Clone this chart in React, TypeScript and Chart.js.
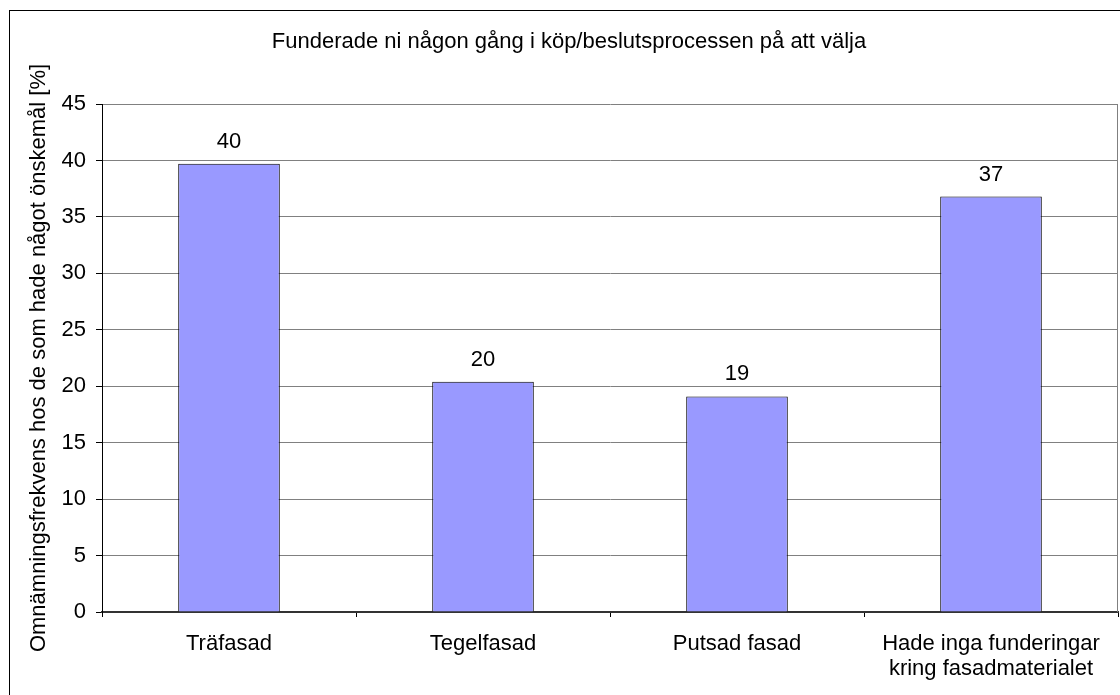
import React, { useEffect, useRef } from "react";
import { Chart, registerables } from "chart.js";

Chart.register(...registerables);

const categories: (string | string[])[] = [
  "Träfasad",
  "Tegelfasad",
  "Putsad fasad",
  ["Hade inga funderingar", "kring fasadmaterialet"],
];
const values: number[] = [39.7, 20.4, 19.1, 36.8];
const valueLabels: string[] = ["40", "20", "19", "37"];
const yMin = 0;
const yMax = 45;
const yStep = 5;
const chartTitle = "Funderade ni någon gång i köp/beslutsprocessen på att välja";
const yAxisTitle = "Omnämningsfrekvens hos de som hade något önskemål [%]";

const FONT = '"Liberation Sans", Arial, sans-serif';
const FSIZE = 22;

const decoPlugin = {
  id: "deco",
  beforeDraw(chart: any) {
    const ctx = chart.ctx;
    ctx.save();
    ctx.fillStyle = "#ffffff";
    ctx.fillRect(0, 0, chart.width, chart.height);
    ctx.strokeStyle = "#000000";
    ctx.lineWidth = 1;
    ctx.strokeRect(9.5, 10.5, 1300, 900);
    ctx.restore();
  },
  afterDraw(chart: any) {
    const { ctx, chartArea } = chart;
    ctx.save();
    ctx.strokeStyle = "#808080";
    ctx.lineWidth = 1;
    ctx.beginPath();
    ctx.moveTo(Math.round(chartArea.right) - 0.5, chartArea.top);
    ctx.lineTo(Math.round(chartArea.right) - 0.5, chartArea.bottom);
    ctx.stroke();

    ctx.fillStyle = "#000000";
    ctx.font = `${FSIZE}px ${FONT}`;
    ctx.textAlign = "center";
    ctx.textBaseline = "middle";
    ctx.fillText(chartTitle, 569, 41.5);

    ctx.save();
    ctx.translate(39, (chartArea.top + chartArea.bottom) / 2);
    ctx.rotate(-Math.PI / 2);
    ctx.fillText(yAxisTitle, 0, 0);
    ctx.restore();

    const meta = chart.getDatasetMeta(0);
    meta.data.forEach((bar: any, i: number) => {
      ctx.fillText(valueLabels[i], bar.x, bar.y - 22);
    });
    ctx.restore();
  },
};

export default function App() {
  const ref = useRef<HTMLCanvasElement | null>(null);
  useEffect(() => {
    document.body.style.margin = "0";
    const canvas = ref.current;
    if (!canvas) return;
    const chart = new Chart(canvas, {
      type: "bar",
      data: {
        labels: categories,
        datasets: [
          {
            data: values,
            backgroundColor: "#9999FF",
            borderColor: "#000000",
            borderWidth: 1,
            barPercentage: 0.4,
            categoryPercentage: 1,
          },
        ],
      },
      options: {
        animation: false,
        responsive: false,
        devicePixelRatio: 1,
        layout: { padding: { left: 0, top: 104, right: 2, bottom: 0 } },
        plugins: {
          legend: { display: false },
          tooltip: { enabled: false },
          title: { display: false },
        },
        scales: {
          x: {
            afterFit(scale: any) {
              scale.height = 83;
            },
            grid: {
              drawOnChartArea: false,
              drawTicks: true,
              tickLength: 5,
              tickColor: "#000000",
              offset: true,
            },
            border: { display: true, color: "#333333", width: 2 },
            ticks: {
              color: "#000000",
              font: { family: FONT, size: FSIZE, lineHeight: 1.14 },
              padding: 14,
              maxRotation: 0,
              autoSkip: false,
            },
          },
          y: {
            min: yMin,
            max: yMax,
            afterFit(scale: any) {
              scale.width = 102;
            },
            grid: {
              color: "#808080",
              drawTicks: true,
              tickLength: 6,
              tickColor: "#000000",
            },
            border: { display: true, color: "#000000", width: 1 },
            ticks: {
              stepSize: yStep,
              color: "#000000",
              font: { family: FONT, size: FSIZE },
              padding: 10,
            },
          },
        },
      },
      plugins: [decoPlugin],
    });
    return () => chart.destroy();
  }, []);
  return (
    <div style={{ width: 1120, height: 695 }}>
      <canvas ref={ref} width={1120} height={695} style={{ display: "block" }} />
    </div>
  );
}
